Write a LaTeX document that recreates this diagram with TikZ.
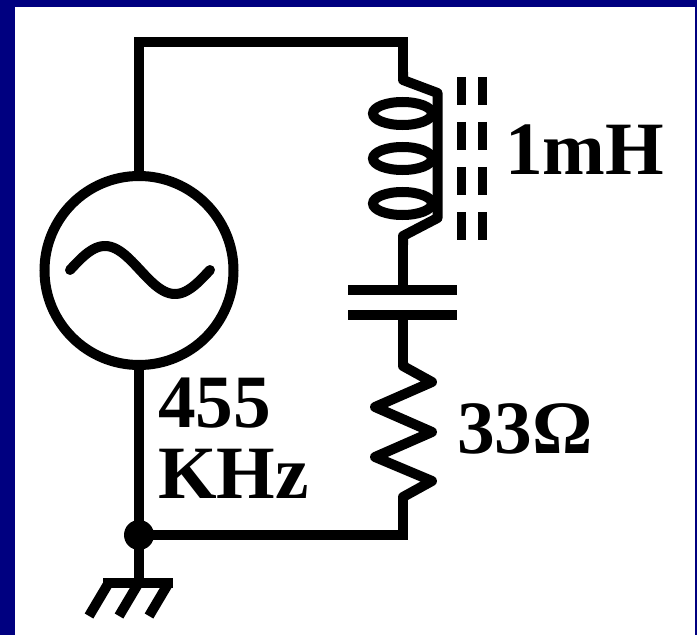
\documentclass[tikz,border=0pt]{standalone}
\usepackage{fontspec}
\setmainfont{Liberation Serif}
\definecolor{navy}{HTML}{000080}
\tikzset{
  wire/.style={line width=7.5pt, line join=miter},
  lbl/.style={anchor=base west, inner sep=0pt, font=\fontsize{56.5}{60}\selectfont\bfseries},
  coredash/.style={line width=6.75pt},
}
\begin{document}
\begin{tikzpicture}[x=0.75pt,y=-0.75pt]
\useasboundingbox (0,0) rectangle (697,635);
\fill[white] (0,0) rectangle (697,635);
\fill[navy] (0,0) rectangle (15,635);
\fill[navy] (0,0) rectangle (697,7);
\fill[navy] (695,0) rectangle (697,635);

% coordinates
\coordinate (tr) at (403,42);
\coordinate (Ltop) at (403,72);
\coordinate (Lbot) at (403,245);
\coordinate (Ctop) at (403,290);
\coordinate (Cbot) at (403,315);
\coordinate (Rtop) at (403,362);
\coordinate (Rbot) at (403,500);
\coordinate (br) at (403,535);
\coordinate (gnd) at (139,583);

% source
\node[draw, circle, line width=7.5pt, minimum size=141.75pt, inner sep=0pt] (src) at (139,270.5) {};
\draw[line width=7.5pt, domain=70:210, samples=60, smooth, line cap=round]
  plot (\x, {270-24*sin((\x-70)/140*360)});

% junction
\node[fill, circle, minimum size=22.5pt, inner sep=0pt] (jn) at (139,535) {};

% wires
\draw[wire] (src.south) -- (jn.center) -- (br) -- (Rbot);
\draw[wire] (src.north) |- (tr) -- (Ltop);

% inductor
\draw[wire, line join=round] (Ltop) -- (403,80) -- (437.5,93) -- (437.5,218) -- (403,236) -- (Lbot);
\foreach \yy in {113.5,158.5,203.5}
  \draw[line width=7.5pt] (402.5,\yy) ellipse [x radius=29.5, y radius=11.5];
% core
\foreach \xx in {461.5,482}
  \foreach \yy in {77,122,167,212}
    \draw[coredash] (\xx,\yy) -- (\xx,\yy+28);

% capacitor
\draw[wire] (Lbot) -- (Ctop);
\draw[wire] (348,290) -- (457,290);
\draw[wire] (348,315) -- (457,315);
\draw[wire] (Cbot) -- (Rtop);

% resistor
\draw[wire, line join=round] (Rtop) -- (403,366) -- (432,382) -- (375,407) -- (432,432) -- (375,457) -- (432,481) -- (403,497) -- (Rbot);

% ground
\draw[wire] (jn.center) -- (gnd);
\draw[wire] (103,583) -- (173,583);
\foreach \xx in {108,138,168}
  \draw[wire] (\xx,584) -- (\xx-19,616);

% labels
\node[lbl] (t1) at (158,427) {455};
\node[lbl] (t2) at (158,498) {KHz};
\node[lbl] (t3) at (505,175) {1mH};
\node[lbl] (t4) at (457,453) {33Ω};
\end{tikzpicture}
\end{document}
